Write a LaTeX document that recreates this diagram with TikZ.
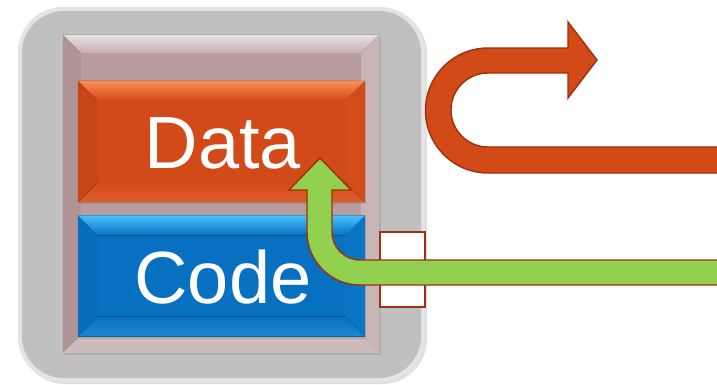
\documentclass[tikz,border=0pt]{standalone}
\usepackage{fontspec}
\setmainfont{Liberation Sans}
\usetikzlibrary{calc,shadows}
\definecolor{shellgray}{HTML}{C0C0C0}
\definecolor{shellrim}{HTML}{E4E4E4}
\definecolor{framepink}{HTML}{B89C9E}
\definecolor{dataorange}{HTML}{D14A18}
\definecolor{datalight}{HTML}{FF8C55}
\definecolor{codeblue}{HTML}{0870C0}
\definecolor{codelight}{HTML}{48C2FF}
\definecolor{arrowred}{HTML}{D24A17}
\definecolor{arrowgreen}{HTML}{92D050}
\definecolor{arrowline}{HTML}{A0300F}
% bevel strips round a node: [width]{node}{top}{left}{right}{bottom}
\newcommand*{\bevel}[6][18]{%
  \fill[#3] (#2.north west) -- (#2.north east) -- ++(-#1,-#1) -- ($(#2.north west)+(#1,-#1)$) -- cycle;
  \fill[#4] (#2.north west) -- ++(#1,-#1) -- ($(#2.south west)+(#1,#1)$) -- (#2.south west) -- cycle;
  \fill[#5] (#2.north east) -- ++(-#1,-#1) -- ($(#2.south east)+(-#1,#1)$) -- (#2.south east) -- cycle;
  \fill[#6] (#2.south west) -- (#2.south east) -- ++(-#1,#1) -- ($(#2.south west)+(#1,#1)$) -- cycle;
}

\begin{document}
\begin{tikzpicture}[x=1pt,y=1pt,
    box/.style={rectangle,inner sep=0pt,minimum width=287pt,minimum height=121pt,
      text=white,font=\fontsize{74}{74}\selectfont},
    blockarrow/.style={draw=arrowline,line width=1.4pt,line join=miter}]
  \useasboundingbox (0,0) rectangle (717,384);
  % the outer shell
  \node[rectangle,rounded corners=45pt,minimum width=407pt,minimum height=375pt,
    fill=shellrim,drop shadow={opacity=0.25,shadow xshift=2pt,shadow yshift=-2pt}] (shell) at (221.5,189.5) {};
  \node[rectangle,rounded corners=42pt,minimum width=399pt,minimum height=367pt,
    fill=shellgray] (shellcore) at (221.5,189.5) {};
  % frame
  \node[rectangle,minimum width=316pt,minimum height=318pt,fill=framepink,
    drop shadow={opacity=0.3,shadow xshift=2pt,shadow yshift=-2pt}] (frame) at (221,190) {};
  \bevel[18]{frame}{top color=framepink!30!white,bottom color=framepink!80!white}{framepink!95!black}%
    {framepink!75!white}{framepink!70!white}
  % the two blocks
  \node[box,fill=dataorange,drop shadow={opacity=0.3,shadow xshift=1pt,shadow yshift=-2pt}] (data) at (221.5,242.5) {};
  \bevel[20]{data}{top color=datalight,bottom color=dataorange}{dataorange!95!black}%
    {dataorange!95!datalight}{top color=dataorange,bottom color=dataorange!70!datalight}
  \node[box] (datatext) at (223,241) {Data};
  \node[box,fill=codeblue,drop shadow={opacity=0.3,shadow xshift=1pt,shadow yshift=-2pt}] (code) at (221.5,108) {};
  \bevel[20]{code}{top color=codelight,bottom color=codeblue}{codeblue!97!black}%
    {codeblue!95!codelight}{top color=codeblue,bottom color=codeblue!70!codelight}
  \node[box] (codetext) at (223,107) {Code};
  % port on the shell
  \node[rectangle,draw=arrowline,line width=1.2pt,fill=white,inner sep=0pt,
    minimum width=45pt,minimum height=75pt] (port) at (402.5,114.5) {};
  % orange arrow going out and back
  \filldraw[blockarrow,fill=arrowred]
    (722,211) -- (488,211) arc (270:90:62.5) -- (568,336) -- (568,362) -- (597,324)
    -- (568,286) -- (568,311) -- (488,311) arc (90:270:37) -- (722,237) -- cycle;
  % green arrow coming in
  \filldraw[blockarrow,fill=arrowgreen]
    (722,124) -- (360,124) arc (270:180:28) -- (332,194) -- (351,194) -- (320,226)
    -- (289,194) -- (307,194) -- (307,152) arc (180:270:53) -- (722,99) -- cycle;
\end{tikzpicture}
\end{document}
